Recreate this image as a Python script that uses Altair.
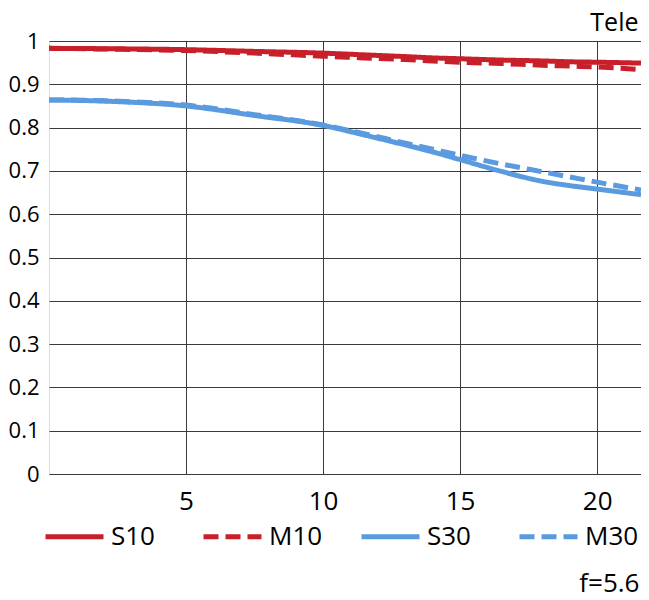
import altair as alt
import pandas as pd

# ---- data ----
positions = [0, 2.5, 5, 7.5, 10, 11.5, 13, 14, 15, 16.5, 18, 19, 20, 21.6]
s10 = [0.983, 0.982, 0.980, 0.976, 0.972, 0.968, 0.964, 0.961, 0.959, 0.956, 0.954, 0.952, 0.951, 0.949]
m10 = [0.983, 0.981, 0.978, 0.972, 0.965, 0.961, 0.957, 0.954, 0.951, 0.948, 0.944, 0.942, 0.940, 0.934]
s30 = [0.864, 0.860, 0.850, 0.828, 0.805, 0.783, 0.760, 0.744, 0.726, 0.699, 0.676, 0.666, 0.658, 0.645]
m30 = [0.864, 0.861, 0.852, 0.830, 0.806, 0.786, 0.764, 0.750, 0.736, 0.716, 0.698, 0.686, 0.674, 0.656]

series_names = ["S10", "M10", "S30", "M30"]
series_colors = ["#c8202a", "#c8202a", "#5a9be0", "#5a9be0"]
series_dashes = [[1, 0], [15, 7], [1, 0], [15, 7]]

x_ticks = [5, 10, 15, 20]
y_ticks = [0, 0.1, 0.2, 0.3, 0.4, 0.5, 0.6, 0.7, 0.8, 0.9, 1]

chart_title = "Tele"
aperture_note = "f=5.6"

rows = []
for name, vals in zip(series_names, [s10, m10, s30, m30]):
    for p, v in zip(positions, vals):
        rows.append({"pos": p, "mtf": v, "series": name})
df = pd.DataFrame(rows)

FONT = "Open Sans"
GRID = "#3a3a3a"

legend = alt.Legend(
    title=None,
    orient="none",
    legendX=-6,
    legendY=464,
    direction="horizontal",
    columns=4,
    symbolType="stroke",
    symbolSize=3364,
    symbolStrokeWidth=5,
    labelFontSize=26,
    labelFont=FONT,
    labelColor="black",
    labelOffset=5,
    columnPadding=28,
    gridAlign="all",
)

chart = (
    alt.Chart(df)
    .mark_line(strokeWidth=5, interpolate="monotone", clip=True)
    .encode(
        x=alt.X(
            "pos:Q",
            scale=alt.Scale(domain=[0, 21.6], nice=False, zero=False),
            axis=alt.Axis(
                values=x_ticks,
                title=aperture_note,
                titleAnchor="end",
                titleAlign="right",
                titleX=590,
                titleY=117,
                titleBaseline="alphabetic",
                titleFontSize=26,
                titleFontWeight="normal",
                titleFont=FONT,
                titleColor="black",
                labelFontSize=26,
                labelFont=FONT,
                labelColor="black",
                labelPadding=14,
                ticks=False,
                domain=False,
                gridColor=GRID,
                gridWidth=1,
                gridOpacity=1,
            ),
        ),
        y=alt.Y(
            "mtf:Q",
            scale=alt.Scale(domain=[0, 1], nice=False),
            axis=alt.Axis(
                values=y_ticks,
                format=".1~f",
                title=chart_title,
                titleAngle=0,
                titleAnchor="end",
                titleAlign="right",
                titleBaseline="alphabetic",
                titleX=589,
                titleY=-11,
                titleFontSize=25,
                titleFontWeight="normal",
                titleFont=FONT,
                titleColor="black",
                labelFontSize=22,
                labelFont=FONT,
                labelColor="black",
                labelPadding=10,
                ticks=False,
                domain=False,
                gridColor=GRID,
                gridWidth=1,
                gridOpacity=1,
            ),
        ),
        color=alt.Color(
            "series:N",
            scale=alt.Scale(domain=series_names, range=series_colors),
            legend=legend,
        ),
        strokeDash=alt.StrokeDash(
            "series:N",
            scale=alt.Scale(domain=series_names, range=series_dashes),
            legend=legend,
        ),
    )
    .properties(
        width=592,
        height=433,
        autosize=alt.AutoSizeParams(type="none"),
        padding={"left": 41, "top": 33, "right": 0, "bottom": 124},
    )
    .configure_view(stroke=GRID, strokeWidth=1)
    .configure(background="white")
)

chart.save("out.html", embed_options={"renderer": "svg", "actions": False})
